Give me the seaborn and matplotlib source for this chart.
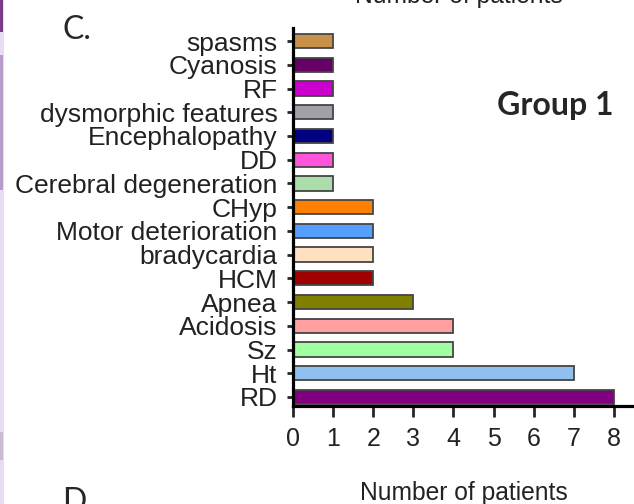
import matplotlib
matplotlib.use("Agg")
import matplotlib.pyplot as plt
import seaborn as sns
import pandas as pd
from matplotlib.patches import Rectangle

# symptoms, top to bottom as in the figure
symptoms = ["spasms", "Cyanosis", "RF", "dysmorphic features", "Encephalopathy",
            "DD", "Cerebral degeneration", "CHyp", "Motor deterioration",
            "bradycardia", "HCM", "Apnea", "Acidosis", "Sz", "Ht", "RD"]
patients = [1, 1, 1, 1, 1, 1, 1, 2, 2, 2, 2, 3, 4, 4, 7, 8]
bar_colors = ["#C8914A", "#660066", "#CC00CC", "#A0A0A8", "#000080",
              "#FF55DD", "#AADDAA", "#FF8000", "#55A0FF", "#FFE0C0",
              "#A00000", "#808000", "#FF9F9F", "#A0FFA0", "#90C0F0", "#800080"]
x_ticks = [0, 1, 2, 3, 4, 5, 6, 7, 8]

df = pd.DataFrame({"Symptom": symptoms, "Patients": patients})

sns.set_style("ticks")
plt.rcParams["font.family"] = ["Liberation Sans", "DejaVu Sans"]

fig = plt.figure(figsize=(6.34, 5.04), dpi=100)
ax = fig.add_axes([293 / 634, 1 - 406 / 504, 1 - 293 / 634, 378 / 504])

sns.barplot(data=df, x="Patients", y="Symptom", hue="Symptom", palette=bar_colors,
            orient="h", width=0.6, edgecolor="#454545", linewidth=1.3,
            legend=False, saturation=1, ax=ax)

ax.set_xlim(0, 8.5)
ax.set_ylim(15.38, -0.55)
ax.set_xticks(x_ticks)
ax.set_ylabel("")
ax.set_xlabel("Number of patients", fontsize=17.7, color="#222222", labelpad=22)
sns.despine(ax=ax)
for side in ["left", "bottom"]:
    ax.spines[side].set_linewidth(2.3)
    ax.spines[side].set_color("black")
ax.tick_params(axis="y", length=4.5, width=2, pad=6.5, labelsize=19, labelcolor="#222222")
ax.tick_params(axis="x", length=8, width=2, pad=7, labelsize=18, labelcolor="#222222")

# panel texts
fig.text(497 / 634, 1 - 106 / 504, "Group 1", fontsize=23, fontweight="bold",
         family=["Lato", "DejaVu Sans"], va="center", ha="left")
fig.text(62 / 634, 1 - 30 / 504, "C.", fontsize=23, family=["Lato", "DejaVu Sans"],
         va="center", ha="left")
fig.text(62 / 634, 1 - 487 / 504, "D.", fontsize=23, family=["Lato", "DejaVu Sans"],
         va="top", ha="left")
fig.text(459 / 634, 1 - 3 / 504, "Number of patients", fontsize=17.7, color="#222222",
         va="baseline", ha="center")

# slide border strip on the left
fig.patches.append(Rectangle((0, 0), 4 / 634, 1, transform=fig.transFigure,
                             facecolor="#E8DCF4", edgecolor="none"))
fig.patches.append(Rectangle((0, 1 - 190 / 504), 3 / 634, 135 / 504, transform=fig.transFigure,
                             facecolor="#B89CCB", edgecolor="none"))
fig.patches.append(Rectangle((0, 1 - 32 / 504), 3 / 634, 32 / 504, transform=fig.transFigure,
                             facecolor="#7A3A8A", edgecolor="none"))
fig.patches.append(Rectangle((0, 1 - 460 / 504), 3 / 634, 28 / 504, transform=fig.transFigure,
                             facecolor="#C9BCD2", edgecolor="none"))

fig.savefig("out.png", dpi=100)
